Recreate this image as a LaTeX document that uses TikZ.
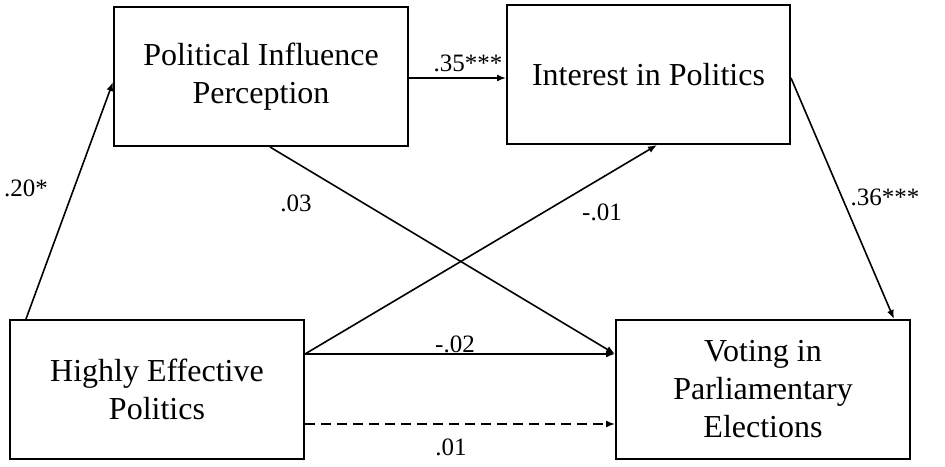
\documentclass[tikz,border=0pt]{standalone}
\usepackage{fontspec}
\setmainfont{Liberation Serif}
\usepackage{tikz}
\usetikzlibrary{arrows.meta,calc,positioning}

\tikzset{
  box/.style={draw,line width=2pt,inner sep=0pt,align=center,minimum width=294pt,minimum height=139pt,font=\fontsize{32}{38}\selectfont},
  arr/.style={line width=1.6pt,-{Latex[length=9pt,width=7pt]}},
  coef/.style={inner sep=0pt,font=\fontsize{25}{30}\selectfont}
}

\begin{document}
\begin{tikzpicture}[x=1pt,y=-1pt]
\useasboundingbox (0,0) rectangle (945,466);
\node[box] (pip) at (261,76.5) {Political Influence\\Perception};
\node[box,minimum width=283pt] (ip) at (648.5,74.5) {Interest in Politics};
\node[box] (hep) at (157,389.5) {Highly Effective\\Politics};
\node[box] (vpe) at (763,389.5) {Voting in\\Parliamentary\\Elections};
\draw[arr] ([xshift=17pt]hep.north west) -- ([yshift=-5.5pt]pip.west);
\draw[arr] ([yshift=-1.5pt]pip.east) -- ([yshift=-1.5pt]pip.east -| ip.west);
\draw[arr] ([yshift=-3.5pt]ip.east) -- ([xshift=-17pt]vpe.north east);
\draw[arr] ([xshift=9pt]pip.south) -- ([yshift=35.5pt]vpe.west);
\draw[arr] ([yshift=35.5pt]hep.east) -- ([xshift=8.5pt]ip.south);
\draw[arr] ([yshift=35.5pt]hep.east) -- ([yshift=35.5pt]vpe.west);
\draw[arr,dash pattern=on 10pt off 6pt] ([yshift=-34.5pt]hep.east) -- ([yshift=-34.5pt]vpe.west);
\node[coef] (c20) at (26,188) {.20*};
\node[coef] (c35) at (468,63) {.35***};
\node[coef] (c36) at (885,197) {.36***};
\node[coef] (c03) at (296,203) {.03};
\node[coef] (c01a) at (602,212) {-.01};
\node[coef] (c02) at (455,344) {-.02};
\node[coef] (c01b) at (451,447) {.01};
\end{tikzpicture}
\end{document}
